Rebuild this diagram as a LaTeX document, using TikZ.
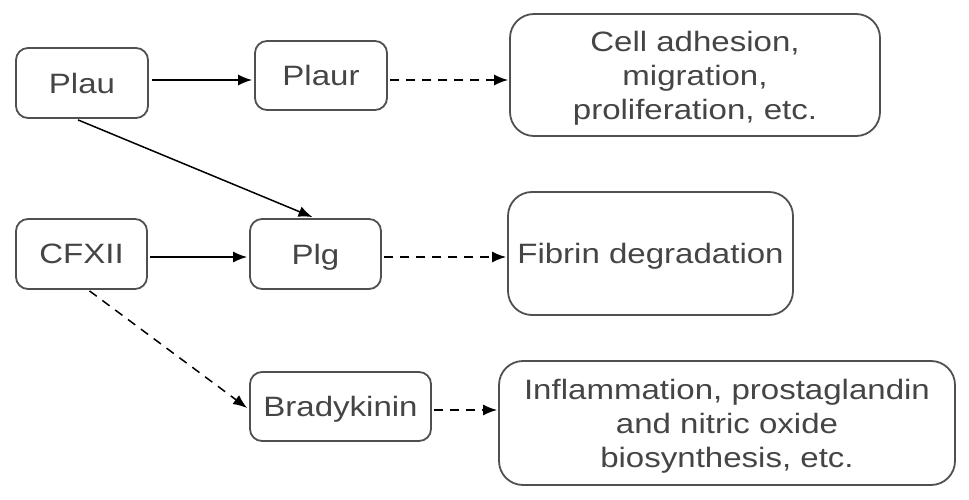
\documentclass[tikz,border=0pt]{standalone}
\usepackage{fontspec}
\setmainfont[FakeStretch=1.18]{Liberation Sans}
\usetikzlibrary{arrows.meta,calc}
\definecolor{boxgray}{HTML}{505050}
\definecolor{txtgray}{HTML}{454545}
\tikzset{
  box/.style={draw=boxgray, line width=1.8pt, rounded corners=12pt, text=txtgray,
    inner sep=0pt, align=center, text depth=0pt, font=\fontsize{28}{34}\selectfont},
  bigbox/.style={box, rounded corners=24pt},
  arr/.style={line width=1.5pt, -{Latex[length=14pt,width=11pt]}},
  darr/.style={arr, dash pattern=on 9pt off 7pt}
}
\begin{document}
\begin{tikzpicture}[x=1pt,y=1pt]
\useasboundingbox[fill=white] (0,0) rectangle (969,499);
\node[box, minimum width=132pt, minimum height=70pt] (plau) at (82,416) {Plau};
\node[box, minimum width=132pt, minimum height=69pt] (plaur) at (321,423.5) {Plaur};
\node[bigbox, minimum width=370pt, minimum height=122pt] (cell) at (695,424) {Cell adhesion,\\migration,\\proliferation, etc.};
\node[box, minimum width=131pt, minimum height=70pt] (cfxii) at (81.5,245) {CFXII};
\node[box, minimum width=131pt, minimum height=70pt] (plg) at (315.5,245) {Plg};
\node[bigbox, minimum width=285pt, minimum height=123pt] (fibrin) at (650.5,245.5) {Fibrin degradation};
\node[box, minimum width=181pt, minimum height=69pt] (brady) at (340.5,92.5) {Bradykinin};
\node[bigbox, minimum width=456pt, minimum height=124pt] (infl) at (727,76) {Inflammation, prostaglandin\\and nitric oxide\\biosynthesis, etc.};
\draw[arr] ([xshift=3pt,yshift=3pt]plau.east) -- ([xshift=-2pt,yshift=-4.5pt]plaur.west);
\draw[darr] ([xshift=2pt,yshift=-4.5pt]plaur.east) -- ([xshift=-1pt,yshift=-5pt]cell.west);
\draw[arr] ([xshift=-4pt,yshift=-1pt]plau.south) -- ([xshift=-3pt,yshift=1pt]plg.north);
\draw[arr] ([xshift=2pt,yshift=-3pt]cfxii.east) -- ([xshift=-2pt,yshift=-3pt]plg.west);
\draw[darr] ([xshift=2pt,yshift=-3pt]plg.east) -- ([xshift=-1pt,yshift=-3.5pt]fibrin.west);
\draw[darr] ([xshift=8pt,yshift=-1pt]cfxii.south) -- ([xshift=-2pt,yshift=-1.5pt]brady.west);
\draw[darr] ([xshift=2pt,yshift=-3.5pt]brady.east) -- ([xshift=-1pt,yshift=13pt]infl.west);
\end{tikzpicture}
\end{document}
